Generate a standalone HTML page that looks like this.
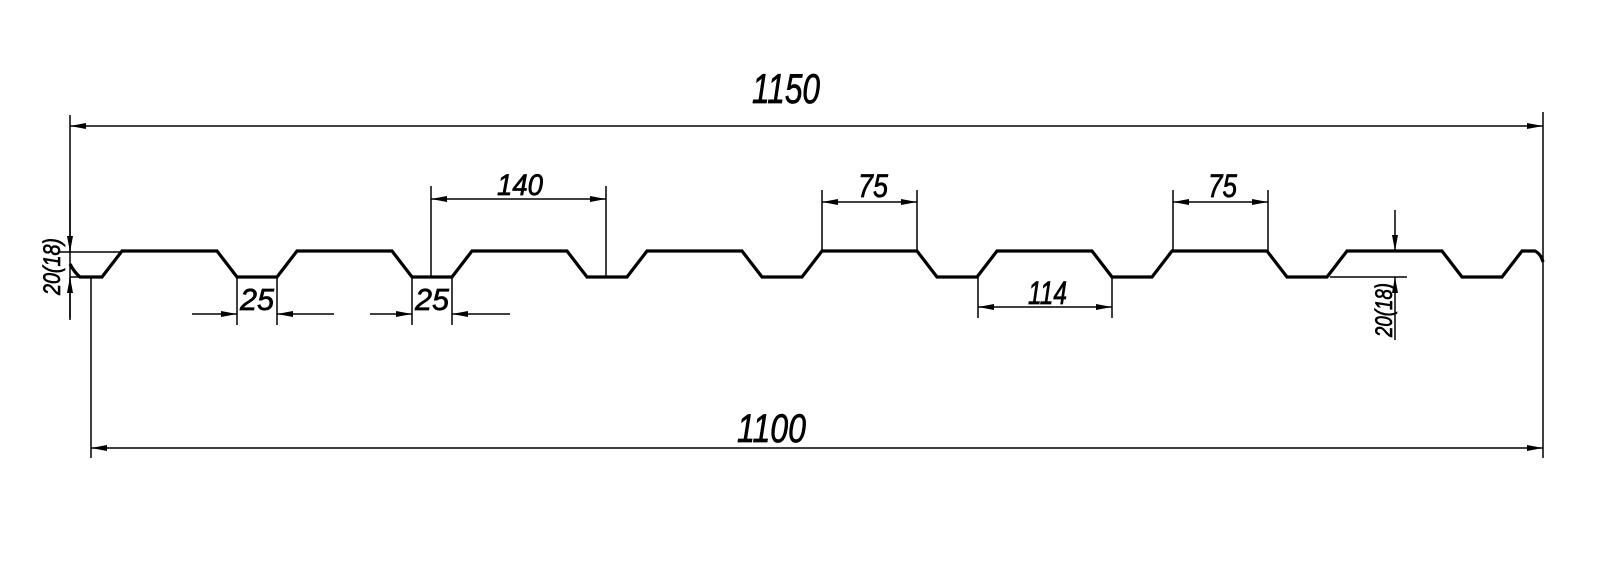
<!DOCTYPE html>
<html><head><meta charset="utf-8"><style>
html,body{margin:0;padding:0;background:#fff;}
svg{display:block;}
text{font-family:"Liberation Sans",sans-serif;font-style:italic;fill:#000;stroke:#000;stroke-width:0.7;}
</style></head><body>
<svg width="1600" height="586" viewBox="0 0 1600 586" xmlns="http://www.w3.org/2000/svg">
<defs>
<marker id="a" viewBox="0 0 16 6" refX="16" refY="3" markerWidth="16" markerHeight="6" markerUnits="userSpaceOnUse" orient="auto-start-reverse">
<path d="M0,0 L16,3 L0,6 Z" fill="#000"/>
</marker>
</defs>
<g stroke="#000" fill="none">
<path stroke-width="3.2" stroke-linejoin="miter" d="M70,264 Q74,272 80,277 L102,277 L122,251 L217,251 L237,277 L277,277 L297,251 L392,251 L412,277 L452,277 L472,251 L567,251 L587,277 L627,277 L647,251 L742,251 L762,277 L802,277 L822,251 L917,251 L937,277 L977,277 L997,251 L1092,251 L1112,277 L1152,277 L1172,251 L1267,251 L1287,277 L1327,277 L1347,251 L1442,251 L1462,277 L1502,277 L1522,251 L1535,251 Q1541,254 1543,262"/>
<g stroke-width="1.5">
<line x1="70" y1="115" x2="70" y2="320"/>
<line x1="91" y1="278" x2="91" y2="458"/>
<line x1="1543" y1="112" x2="1543" y2="458"/>
<line x1="60" y1="252" x2="122" y2="252"/>
<line x1="70" y1="277" x2="80" y2="277"/>
<line x1="431" y1="186" x2="431" y2="277"/>
<line x1="606" y1="186" x2="606" y2="277"/>
<line x1="822" y1="190" x2="822" y2="251"/>
<line x1="917" y1="190" x2="917" y2="251"/>
<line x1="1173" y1="190" x2="1173" y2="251"/>
<line x1="1268" y1="190" x2="1268" y2="251"/>
<line x1="978" y1="277" x2="978" y2="318"/>
<line x1="1112" y1="277" x2="1112" y2="318"/>
<line x1="237" y1="277" x2="237" y2="325"/>
<line x1="277" y1="277" x2="277" y2="325"/>
<line x1="412" y1="277" x2="412" y2="325"/>
<line x1="452" y1="277" x2="452" y2="325"/>
<line x1="1330" y1="277" x2="1407" y2="277"/>
<line x1="70" y1="126" x2="1543" y2="126" marker-start="url(#a)" marker-end="url(#a)"/>
<line x1="91" y1="448" x2="1543" y2="448" marker-start="url(#a)" marker-end="url(#a)"/>
<line x1="431" y1="199" x2="606" y2="199" marker-start="url(#a)" marker-end="url(#a)"/>
<line x1="822" y1="202" x2="917" y2="202" marker-start="url(#a)" marker-end="url(#a)"/>
<line x1="1173" y1="202" x2="1268" y2="202" marker-start="url(#a)" marker-end="url(#a)"/>
<line x1="978" y1="307" x2="1112" y2="307" marker-start="url(#a)" marker-end="url(#a)"/>
<line x1="192" y1="314" x2="237" y2="314" marker-end="url(#a)"/>
<line x1="334" y1="314" x2="277" y2="314" marker-end="url(#a)"/>
<line x1="370" y1="314" x2="412" y2="314" marker-end="url(#a)"/>
<line x1="510" y1="314" x2="452" y2="314" marker-end="url(#a)"/>
<line x1="70" y1="200" x2="70" y2="252" marker-end="url(#a)"/>
<line x1="70" y1="318" x2="70" y2="277" marker-end="url(#a)"/>
<line x1="1395" y1="210" x2="1395" y2="251" marker-end="url(#a)"/>
<line x1="1395" y1="340" x2="1395" y2="277" marker-end="url(#a)"/>
</g>
</g>
<text x="752" y="103" font-size="42" textLength="68" lengthAdjust="spacingAndGlyphs">1150</text>
<text x="737" y="442" font-size="40" textLength="69" lengthAdjust="spacingAndGlyphs">1100</text>
<text x="497" y="195" font-size="30" textLength="46" lengthAdjust="spacingAndGlyphs">140</text>
<text x="858" y="197" font-size="32" textLength="30" lengthAdjust="spacingAndGlyphs">75</text>
<text x="1208" y="197" font-size="32" textLength="29" lengthAdjust="spacingAndGlyphs">75</text>
<text x="1028" y="304" font-size="32" textLength="39" lengthAdjust="spacingAndGlyphs">114</text>
<text x="240" y="310" font-size="31" textLength="34" lengthAdjust="spacingAndGlyphs">25</text>
<text x="415" y="310" font-size="31" textLength="34" lengthAdjust="spacingAndGlyphs">25</text>
<text transform="translate(60,295) rotate(-90)" font-size="24" textLength="57" lengthAdjust="spacingAndGlyphs">20(18)</text>
<text transform="translate(1392,337) rotate(-90)" font-size="24" textLength="54" lengthAdjust="spacingAndGlyphs">20(18)</text>
</svg>
</body></html>
